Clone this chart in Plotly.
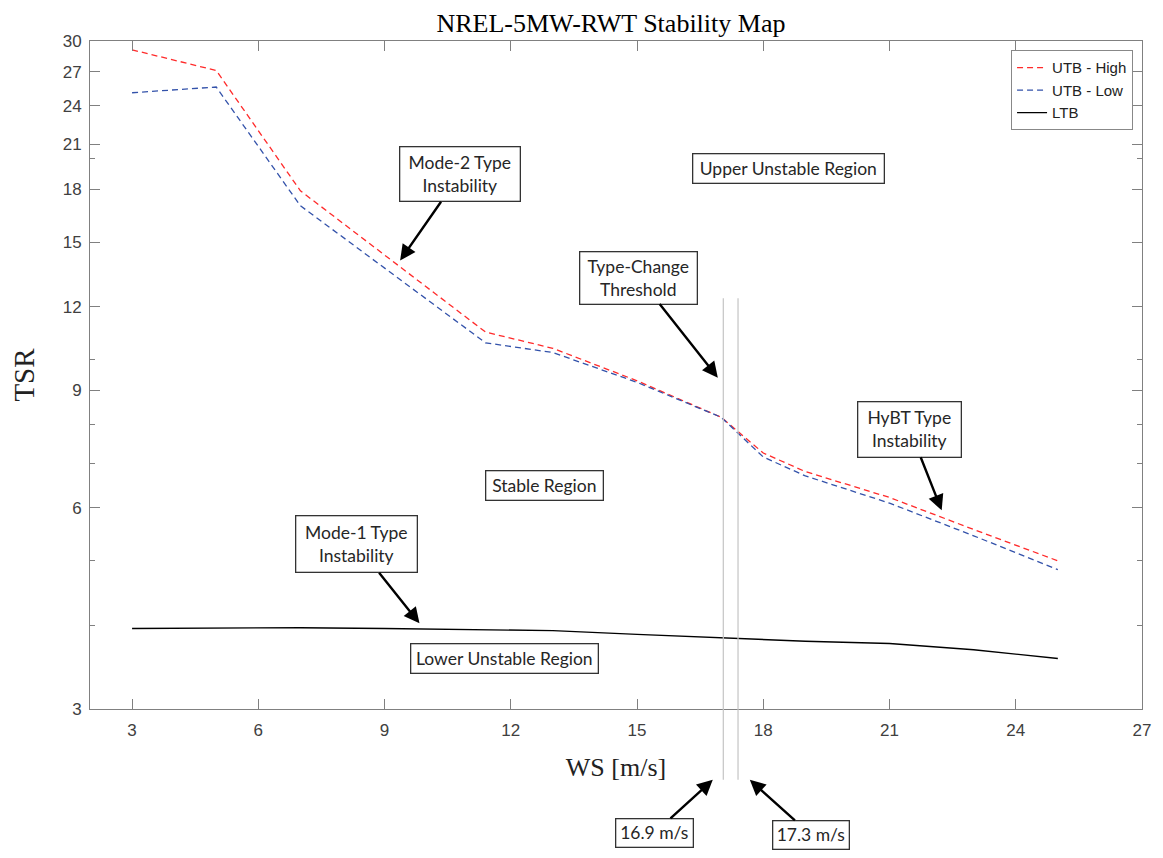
import math
import plotly.graph_objects as go


# ==========================================
# DATOS
# ==========================================

ws_utb = [3, 5, 7, 11.4, 13, 15, 17, 18, 19, 21, 23, 25]
tsr_high = [29.1, 27.1, 17.9, 11.0, 10.4, 9.3, 8.2, 7.25, 6.8, 6.22, 5.57, 5.0]
tsr_low = [25.1, 25.6, 17.0, 10.6, 10.25, 9.25, 8.2, 7.15, 6.7, 6.1, 5.45, 4.85]

ws_ltb = [3, 5, 7, 9, 11.4, 13, 15, 17, 18, 19, 21, 23, 25]
tsr_ltb = [3.96, 3.97, 3.97, 3.96, 3.94, 3.93, 3.88, 3.83, 3.81, 3.79, 3.76, 3.68, 3.57]

x_ticks = [3, 6, 9, 12, 15, 18, 21, 24, 27]
y_ticks = [3, 6, 9, 12, 15, 18, 21, 24, 27, 30]
y_minor = [4, 5, 7, 8, 10, 20]

# umbrales de cambio de tipo (posicion)
umbrales = [17.05, 17.4]

AXIS = "#808080"
BOX_FONT = dict(family="Lato", size=17.5, color="#262626")

fig = go.Figure()

fig.add_trace(
    go.Scatter(
        x=ws_utb, y=tsr_high, mode="lines", name="UTB - High",
        line=dict(color="#ff2a2a", width=1.3, dash="6px,4px")
    )
)

fig.add_trace(
    go.Scatter(
        x=ws_utb, y=tsr_low, mode="lines", name="UTB - Low",
        line=dict(color="#3352aa", width=1.3, dash="6px,4px")
    )
)

fig.add_trace(
    go.Scatter(
        x=ws_ltb, y=tsr_ltb, mode="lines", name="LTB",
        line=dict(color="black", width=1.4)
    )
)

# lineas verticales de umbral
for u in umbrales:
    fig.add_shape(
        type="line", xref="x", yref="paper",
        x0=u, x1=u, y0=-0.106, y1=0.615,
        line=dict(color="#c4c4c4", width=1.2)
    )


def caja(texto, x, y, w, h, ax=None, ay=None, yref="y"):
    d = dict(
        text=texto, x=x, y=y, xref="x", yref=yref,
        font=BOX_FONT, bgcolor="white", bordercolor="#333333",
        borderwidth=1.3, borderpad=0, width=w, height=h,
    )
    if ax is None:
        d.update(showarrow=False, xanchor="center", yanchor="middle")
    else:
        d.update(showarrow=True, ax=ax, ay=ay, arrowhead=2, arrowsize=1.3,
                 arrowwidth=2.4, arrowcolor="black")
    fig.add_annotation(**d)


L = math.log10
caja("Mode-2 Type<br>Instability", 9.37, L(14.08), 119, 53, 60, -86)
caja("Upper Unstable Region", 18.6, L(19.3), 190, 28)
caja("Type-Change<br>Threshold", 16.92, L(9.4), 116, 51, -79, -100)
caja("HyBT Type<br>Instability", 22.24, L(5.95), 102, 54, -32, -81)
caja("Stable Region", 12.81, L(6.48), 116, 28)
caja("Mode-1 Type<br>Instability", 9.83, L(4.03), 120, 55, -63, -79)
caja("Lower Unstable Region", 11.85, L(3.57), 186, 28)
caja("16.9 m/s", 16.8, -0.106, 76, 27, -58, 53, yref="paper")
caja("17.3 m/s", 17.68, -0.106, 75, 27, 61, 55, yref="paper")

# la pagina deja 8 px de margen del body: se descuentan aqui
fig.update_layout(
    width=1155,
    height=850,
    margin=dict(l=78, r=18, t=33, b=149),
    paper_bgcolor="white",
    plot_bgcolor="white",
    title=dict(
        text="NREL-5MW-RWT Stability Map",
        x=0.522, xanchor="center", y=1 - 15 / 850, yanchor="middle",
        font=dict(family="Liberation Serif", size=26, color="black")
    ),
    legend=dict(
        x=0.9915, y=0.986, xanchor="right", yanchor="top",
        bgcolor="white", bordercolor="#888888", borderwidth=1,
        font=dict(family="Liberation Sans", size=15, color="#222222"),
        tracegroupgap=0
    ),
    showlegend=True,
)

fig.update_xaxes(
    range=[2, 27],
    tickvals=x_ticks,
    ticks="inside", ticklen=10, tickcolor=AXIS,
    showline=True, linecolor=AXIS, linewidth=1, mirror="ticks",
    showgrid=False, zeroline=False,
    tickfont=dict(family="Liberation Sans", size=17, color="#404040"),
    ticklabelstandoff=6,
    title=dict(text="WS [m/s]", standoff=18,
               font=dict(family="Liberation Serif", size=26, color="#222222"))
)

fig.update_yaxes(
    type="log",
    range=[math.log10(3), math.log10(30)],
    tickvals=y_ticks,
    ticktext=[str(v) for v in y_ticks],
    ticks="inside", ticklen=10, tickcolor=AXIS,
    minor=dict(tickvals=y_minor, ticks="inside", ticklen=5, tickcolor=AXIS),
    showline=True, linecolor=AXIS, linewidth=1, mirror="ticks",
    showgrid=False, zeroline=False,
    tickfont=dict(family="Liberation Sans", size=17, color="#404040"),
    ticklabelstandoff=4,
    title=dict(text="TSR", standoff=22,
               font=dict(family="Liberation Serif", size=29, color="#222222"))
)

fig.write_html("out.html")
